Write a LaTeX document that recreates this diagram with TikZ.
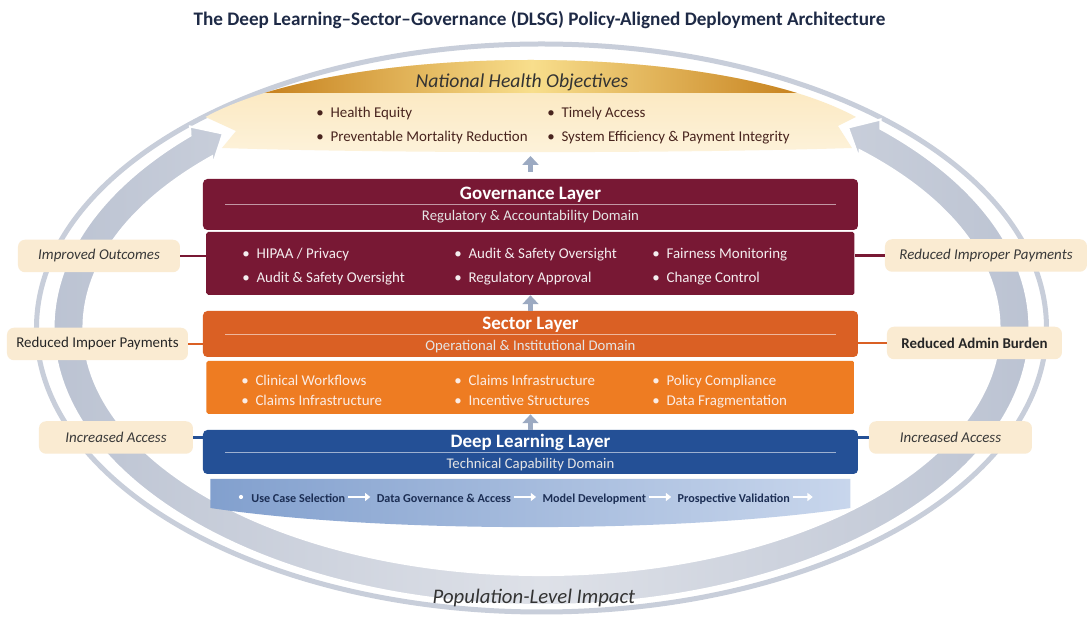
\documentclass[tikz,border=0pt]{standalone}
\usepackage{fontspec}
\setmainfont{Carlito}
\usepackage{tikz}
\usetikzlibrary{calc,positioning,arrows.meta}
\definecolor{govd}{RGB}{120,24,52}
\definecolor{govm}{RGB}{150,44,74}
\definecolor{secd}{RGB}{218,96,36}
\definecolor{secm}{RGB}{234,114,44}
\definecolor{secbd}{RGB}{238,124,34}
\definecolor{secbm}{RGB}{247,156,68}
\definecolor{dld}{RGB}{36,80,150}
\definecolor{dlm}{RGB}{54,106,180}
\definecolor{dlbl}{RGB}{130,160,206}
\definecolor{dlbr}{RGB}{200,214,236}
\definecolor{ringc}{RGB}{200,206,218}
\definecolor{bandc}{RGB}{184,192,208}
\definecolor{bandl}{RGB}{222,225,232}
\definecolor{beige}{RGB}{250,235,210}
\definecolor{goldd}{RGB}{198,128,28}
\definecolor{goldl}{RGB}{248,222,140}
\definecolor{palet}{RGB}{250,226,176}
\definecolor{paleb}{RGB}{253,242,218}
\definecolor{titlec}{RGB}{30,42,70}
\definecolor{objtxt}{RGB}{72,36,30}
\definecolor{arrc}{RGB}{156,170,194}
\definecolor{flowtxt}{RGB}{28,46,84}
\tikzset{
  lhead/.style={rectangle,rounded corners=2.5pt,minimum width=13.1cm,inner sep=0pt},
  lbody/.style={rectangle,rounded corners=1pt,minimum width=12.96cm,inner sep=0pt},
  ttl/.style={font=\bfseries\fontsize{10.8}{12}\selectfont,text=white},
  dom/.style={font=\fontsize{8.4}{10}\selectfont,text=white!90!black},
  itm/.style={anchor=west,inner sep=0pt,text height=1.6ex,text depth=0.4ex,
    font=\fontsize{8.5}{10}\selectfont},
  side/.style={rectangle,rounded corners=4pt,fill=beige,inner sep=0pt,minimum height=0.65cm,
    font=\itshape\fontsize{8.5}{10}\selectfont,text=black!78},
  lnk/.style={line width=1.6pt},
  uparr/.style={-{Triangle[length=5pt,width=9pt]},line width=3pt,arrc},
  flow/.style={inner sep=0pt,text height=1.6ex,text depth=0.4ex,
    font=\bfseries\fontsize{6.9}{8}\selectfont,text=flowtxt},
  flowarr/.style={-{Triangle[length=3pt,width=4.5pt]},line width=1.3pt,white,
    shorten <=1.5pt,shorten >=3.5pt},
}

\begin{document}
\begin{tikzpicture}
  \useasboundingbox[fill=white] (-10.89,-6.18) rectangle (10.89,6.18);
  \node[font=\bfseries\fontsize{10.9}{12}\selectfont,text=titlec] (title) at (-0.1,5.78)
    {The Deep Learning--Sector--Governance (DLSG) Policy-Aligned Deployment Architecture};
  % ---- outer ring ----
  \coordinate (C) at (-0.06,-0.38);
  \draw[ringc,line width=0.1cm] (C) ellipse [x radius=10.1cm,y radius=5.68cm];
  % ---- national objectives: pale body with a gold crown ----
  \shade[top color=palet,bottom color=paleb]
    (-6.78,3.84) .. controls (-4.0,5.36) and (3.45,5.36) .. (6.23,3.84)
    -- (5.87,3.66) -- (6.15,3.22) .. controls (2.7,3.11) and (-3.0,3.11) .. (-6.45,3.22)
    -- (-6.17,3.56) -- cycle;
  \begin{scope}
    \clip (-6.78,3.84) .. controls (-4.0,5.36) and (3.45,5.36) .. (6.23,3.84) -- cycle;
    \shade[left color=goldd,right color=goldd,middle color=goldl] (-5.7,4.32) rectangle (5.2,5.2);
  \end{scope}
  \node[font=\itshape\fontsize{11.2}{13}\selectfont,text=black!80] (objt) at (-0.45,4.54) {National Health Objectives};
  \node[itm,text=objtxt] (o1) at (-4.57,3.94) {\textbullet\ \ Health Equity};
  \node[itm,text=objtxt] (o2) at (-4.57,3.46) {\textbullet\ \ Preventable Mortality Reduction};
  \node[itm,text=objtxt] (o3) at (0.05,3.94) {\textbullet\ \ Timely Access};
  \node[itm,text=objtxt] (o4) at (0.05,3.46) {\textbullet\ \ System Efficiency \& Payment Integrity};
  \coordinate (objb) at (-0.28,3.14);
  % ---- feedback band, bottom half, arrowheads into the objectives ----
  \shadedraw[left color=bandc,right color=bandc,middle color=bandl,draw=white,line width=1.2pt]
    (-6.43,3.51) -- (-7.09,3.65) -- ($(C)+(136:9.76cm and 5.54cm)$)
    arc[start angle=136,end angle=406,x radius=9.76cm,y radius=5.54cm]
    -- (6.72,3.79) -- (6.07,3.63) -- (6.30,2.99) -- ($(C)+(46:9.16cm and 4.94cm)$)
    arc[start angle=46,end angle=-224,x radius=9.16cm,y radius=4.94cm]
    -- (-6.64,2.87) -- cycle;
  \node[font=\itshape\fontsize{11.8}{14}\selectfont,text=black!80] (pop) at (-0.21,-5.78) {Population-Level Impact};
  % ---- governance layer ----
  \node[lhead,minimum height=1.02cm,left color=govd,middle color=govm,right color=govd] (ghd) at (-0.28,2.09) {};
  \draw[white!55!govd,line width=0.4pt] ([xshift=0.45cm]ghd.west) -- ([xshift=-0.45cm]ghd.east);
  \node[ttl] (gttl) at ([yshift=0.19cm]ghd.center) {Governance Layer};
  \node[dom] (gdom) at ([yshift=-0.25cm]ghd.center) {Regulatory \& Accountability Domain};
  \node[lbody,minimum height=1.26cm,left color=govd,middle color=govm,right color=govd] (gbd) at (-0.28,0.91) {};
  \node[itm,text=white!92!govd] (g1) at (-6.05,1.12) {\textbullet\ \ HIPAA / Privacy};
  \node[itm,text=white!92!govd] (g2) at (-6.05,0.64) {\textbullet\ \ Audit \& Safety Oversight};
  \node[itm,text=white!92!govd] (g3) at (-1.81,1.12) {\textbullet\ \ Audit \& Safety Oversight};
  \node[itm,text=white!92!govd] (g4) at (-1.81,0.64) {\textbullet\ \ Regulatory Approval};
  \node[itm,text=white!92!govd] (g5) at (2.15,1.12) {\textbullet\ \ Fairness Monitoring};
  \node[itm,text=white!92!govd] (g6) at (2.15,0.64) {\textbullet\ \ Change Control};
  % ---- sector layer ----
  \node[lhead,minimum height=0.92cm,left color=secd,middle color=secm,right color=secd] (shd) at (-0.28,-0.50) {};
  \draw[white!55!secd,line width=0.4pt] ([xshift=0.45cm]shd.west) -- ([xshift=-0.45cm]shd.east);
  \node[ttl] (sttl) at ([yshift=0.18cm]shd.center) {Sector Layer};
  \node[dom] (sdom) at ([yshift=-0.26cm]shd.center) {Operational \& Institutional Domain};
  \node[lbody,minimum height=1.06cm,left color=secbd,middle color=secbm,right color=secbd] (sbd) at (-0.28,-1.57) {};
  \node[itm,text=white!88!secd] (s1) at (-6.07,-1.42) {\textbullet\ \ Clinical Workflows};
  \node[itm,text=white!88!secd] (s2) at (-6.07,-1.82) {\textbullet\ \ Claims Infrastructure};
  \node[itm,text=white!88!secd] (s3) at (-1.81,-1.42) {\textbullet\ \ Claims Infrastructure};
  \node[itm,text=white!88!secd] (s4) at (-1.81,-1.82) {\textbullet\ \ Incentive Structures};
  \node[itm,text=white!88!secd] (s5) at (2.15,-1.42) {\textbullet\ \ Policy Compliance};
  \node[itm,text=white!88!secd] (s6) at (2.15,-1.82) {\textbullet\ \ Data Fragmentation};
  % ---- deep learning layer ----
  \node[lhead,minimum height=0.88cm,left color=dld,middle color=dlm,right color=dld] (dhd) at (-0.28,-2.86) {};
  \draw[white!55!dld,line width=0.4pt] ([xshift=0.45cm]dhd.west) -- ([xshift=-0.45cm]dhd.east);
  \node[ttl] (dttl) at ([yshift=0.2cm]dhd.center) {Deep Learning Layer};
  \node[dom] (ddom) at ([yshift=-0.26cm]dhd.center) {Technical Capability Domain};
  \shade[left color=dlbl,right color=dlbr]
    (-6.68,-3.40) -- (6.12,-3.40) -- (6.12,-3.98)
    .. controls (2.72,-4.49) and (-3.28,-4.49) .. (-6.68,-3.98) -- cycle;
  % pipeline steps
  \node[circle,fill=white,inner sep=0pt,minimum size=2.4pt] (fdot) at (-6.07,-3.76) {};
  \node[flow,anchor=west] (f1) at (-5.87,-3.76) {Use Case Selection};
  \node[flow,right=0.62cm of f1] (f2) {Data Governance \& Access};
  \node[flow,right=0.62cm of f2] (f3) {Model Development};
  \node[flow,right=0.62cm of f3] (f4) {Prospective Validation};
  \coordinate[right=0.45cm of f4] (fend);
  \draw[flowarr] (f1) -- (f2);
  \draw[flowarr] (f2) -- (f3);
  \draw[flowarr] (f3) -- (f4);
  \draw[flowarr,shorten >=0pt] (f4) -- (fend);
  % ---- upward flow between layers ----
  \draw[uparr,shorten <=0.14cm,shorten >=0.08cm] (ghd.north) -- (objb);
  \draw[uparr] (shd.north) -- (gbd.south);
  \draw[uparr] (dhd.north) -- (sbd.south);
  % ---- outcome labels ----
  \node[side,minimum width=3.24cm] (lIO) at (-8.91,1.06) {Improved Outcomes};
  \node[side,minimum width=3.62cm,font=\fontsize{8.5}{10}\selectfont,text=black!85] (lRP) at (-8.94,-0.70) {Reduced Impoer Payments};
  \node[side,minimum width=3.08cm] (lIA) at (-8.57,-2.57) {Increased Access};
  \node[side,minimum width=4.04cm] (rRP) at (8.83,1.07) {Reduced Improper Payments};
  \node[side,minimum width=3.5cm,font=\bfseries\fontsize{8.5}{10}\selectfont,text=black!85] (rAB) at (8.60,-0.68) {Reduced Admin Burden};
  \node[side,minimum width=3.26cm] (rIA) at (8.12,-2.57) {Increased Access};
  \draw[lnk,govd] (lIO.east) -- (lIO.east -| gbd.west);
  \draw[lnk,govd] (rRP.west) -- (rRP.west -| gbd.east);
  \draw[lnk,secd] (lRP.east) -- (lRP.east -| shd.west);
  \draw[lnk,secd] (rAB.west) -- (rAB.west -| shd.east);
  \draw[lnk,dld] (lIA.east) -- (lIA.east -| dhd.west);
  \draw[lnk,dld] (rIA.west) -- (rIA.west -| dhd.east);
\end{tikzpicture}
\end{document}
